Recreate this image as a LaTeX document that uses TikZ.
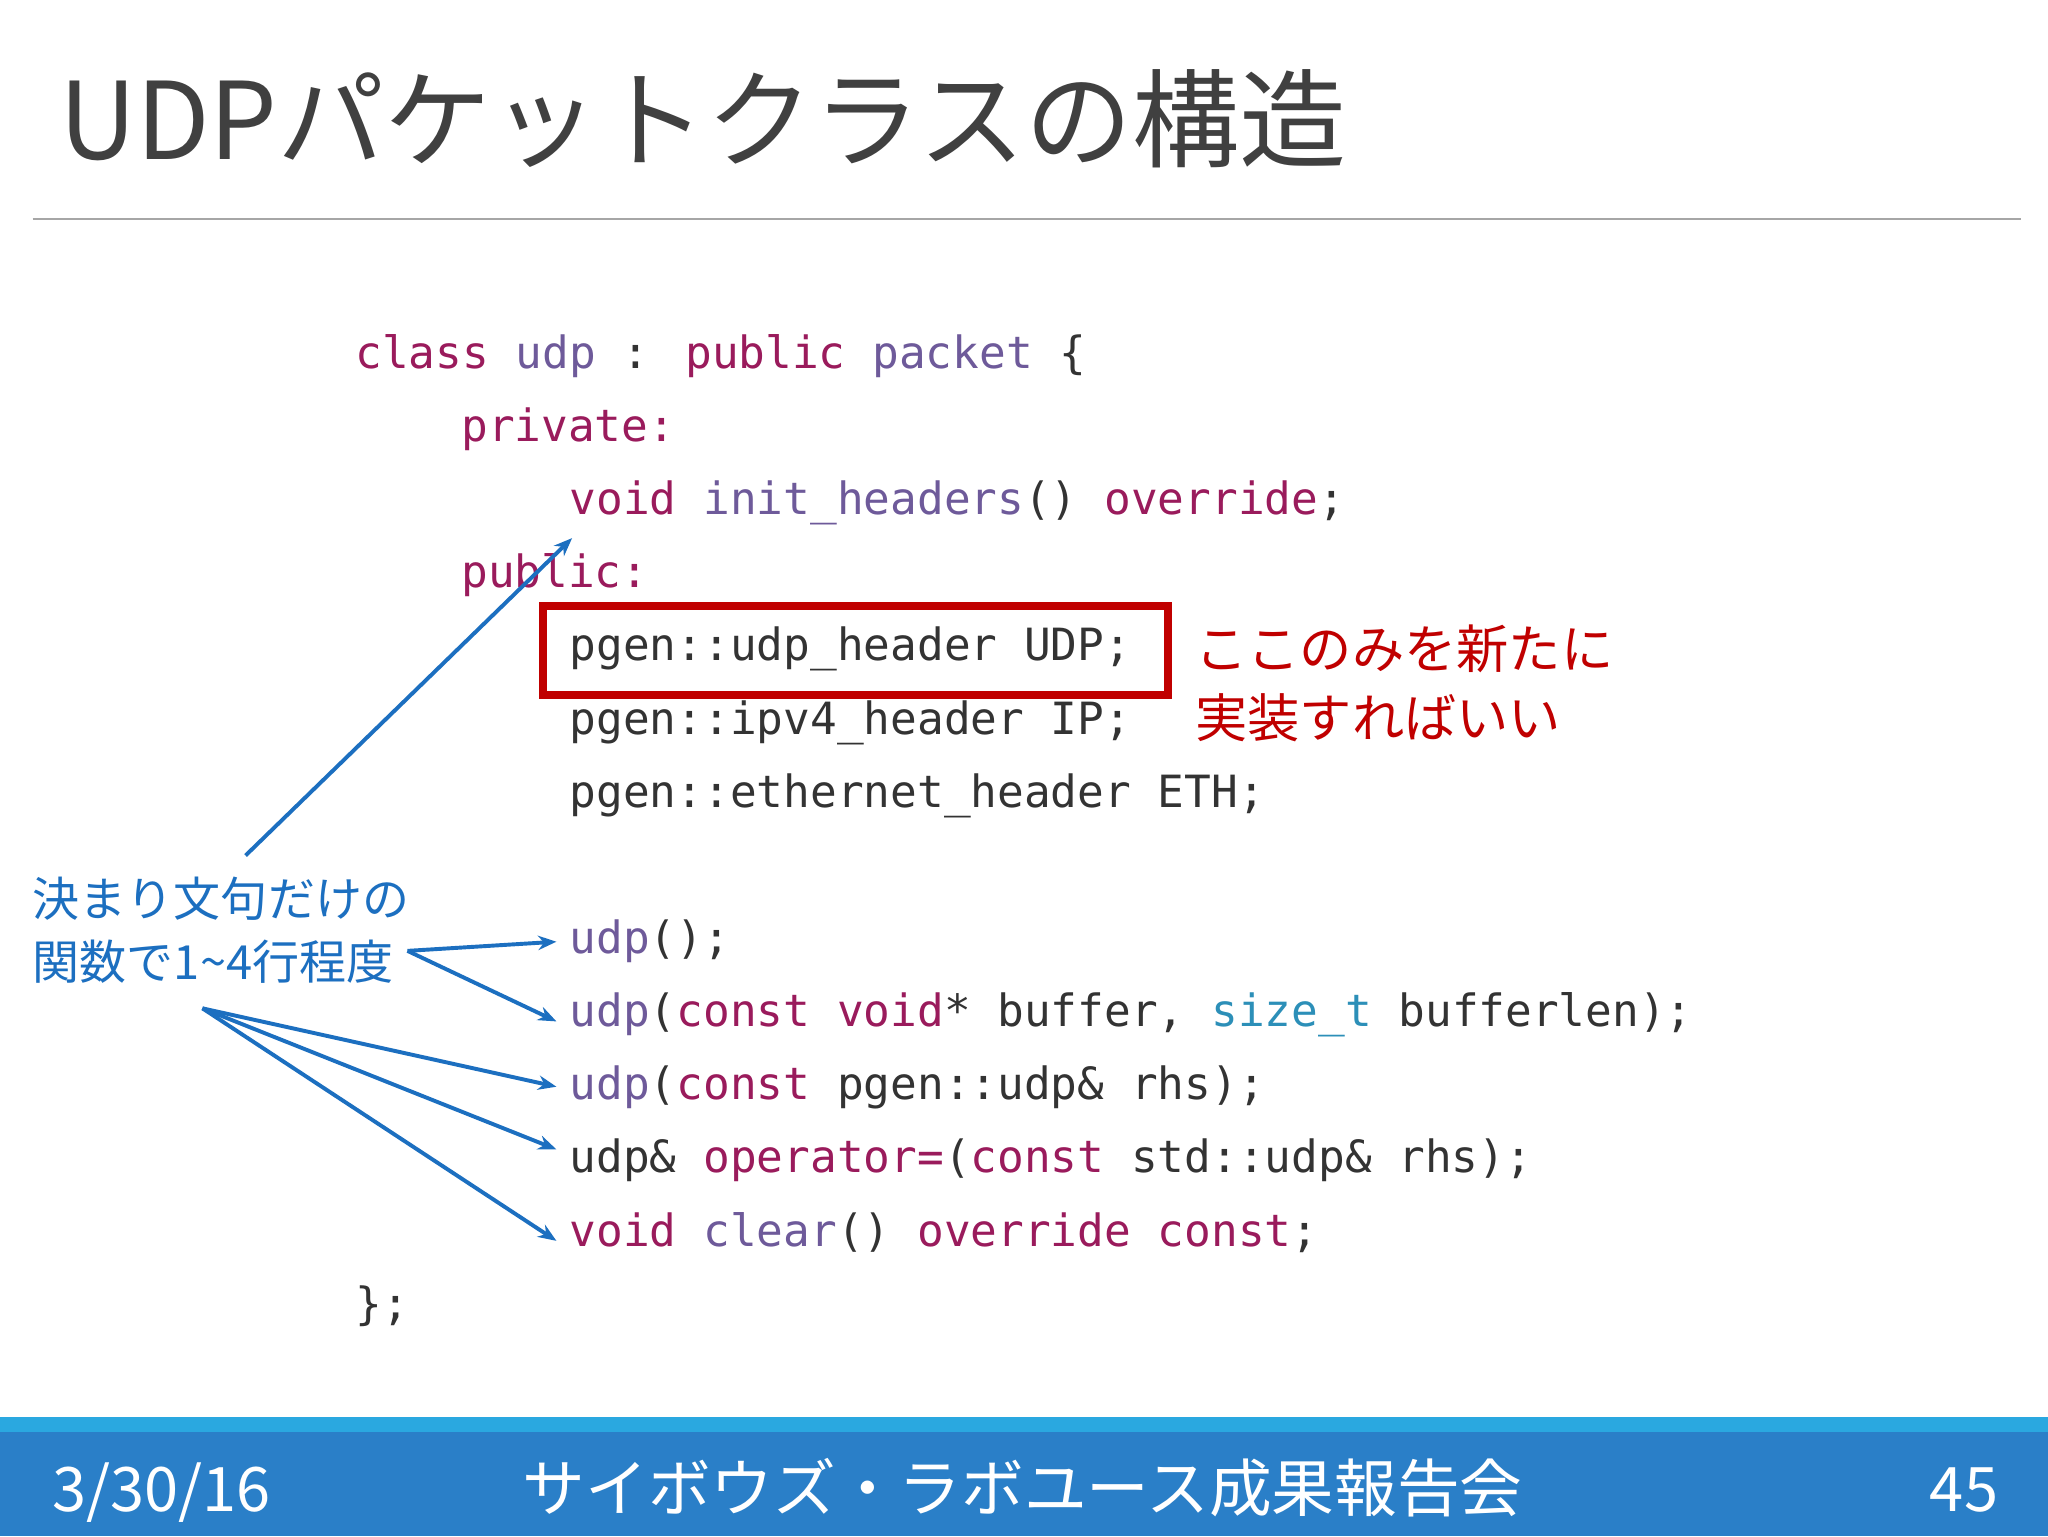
\documentclass[tikz,border=0pt]{standalone}
\usepackage{fontspec}
\newfontfamily\cjk{Noto Sans CJK JP}
\newfontfamily\codefont{DejaVu Sans Mono}
\usetikzlibrary{arrows.meta}
\definecolor{kw}{HTML}{9A1B5C}
\definecolor{id}{HTML}{6E5A9A}
\definecolor{ty}{HTML}{2C8FB8}
\definecolor{tx}{HTML}{333333}
\definecolor{red1}{HTML}{C00000}
\definecolor{blue1}{HTML}{1C6FC0}
\definecolor{barblue}{HTML}{2A7FC8}
\definecolor{stripe}{HTML}{2AA8E0}
\begin{document}
\begin{tikzpicture}[x=1pt,y=-1pt,
  code/.style={anchor=base west,inner sep=0pt,font=\codefont\fontsize{34}{34}\selectfont,text=tx},
  note/.style={anchor=base west,inner sep=0pt,align=left},
  arr/.style={draw=blue1,line width=3pt,-{Stealth[length=14pt,width=11pt]}}]
\useasboundingbox (0,0) rectangle (1568,1176);
\fill[white] (0,0) rectangle (1568,1176);
\node[note,text=black!75,font=\cjk\fontsize{82}{82}\selectfont] (title) at (45,122) {UDPパケットクラスの構造};
\draw[gray!70,line width=1.5pt] (25,168) -- (1547,168);
% code
\node[code] (l1) at (272,282) {\textcolor{kw}{class} \textcolor{id}{udp} : \textcolor{kw}{public} \textcolor{id}{packet} \{};
\node[code] (l2) at (353,338) {\textcolor{kw}{private:}};
\node[code] (l3) at (436,394) {\textcolor{kw}{void} \textcolor{id}{init\_headers}() \textcolor{kw}{override};};
\node[code] (l4) at (353,450) {\textcolor{kw}{public:}};
\node[code] (l5) at (436,506) {pgen::udp\_header UDP;};
\node[code] (l6) at (436,562) {pgen::ipv4\_header IP;};
\node[code] (l7) at (436,618) {pgen::ethernet\_header ETH;};
\node[code] (l8) at (436,730) {\textcolor{id}{udp}();};
\node[code] (l9) at (436,786) {\textcolor{id}{udp}(\textcolor{kw}{const} \textcolor{kw}{void}* buffer, \textcolor{ty}{size\_t} bufferlen);};
\node[code] (l10) at (436,842) {\textcolor{id}{udp}(\textcolor{kw}{const} pgen::udp\& rhs);};
\node[code] (l11) at (436,898) {udp\& \textcolor{kw}{operator=}(\textcolor{kw}{const} std::udp\& rhs);};
\node[code] (l12) at (436,954) {\textcolor{kw}{void} \textcolor{id}{clear}() \textcolor{kw}{override} \textcolor{kw}{const};};
\node[code] (l13) at (272,1010) {\};};
% red box
\draw[red1,line width=6pt] (416,464) rectangle (894,532);
\node[note,text=red1,font=\cjk\fontsize{40}{53}\selectfont] (rnote) at (915,565) {ここのみを新たに\\実装すればいい};
% blue note
\node[note,text=blue1,font=\cjk\fontsize{36}{48}\selectfont] (bnote) at (25,750) {決まり文句だけの\\関数で1\char"007E\relax 4行程度};
\coordinate (a0) at (188,655);
\coordinate (b0) at (312,728);
\coordinate (c0) at (155,772);
\coordinate (t1) at (438,412);
\coordinate (t2) at (426,721);
\coordinate (t3) at (426,782);
\coordinate (t4) at (426,832);
\coordinate (t5) at (426,880);
\coordinate (t6) at (426,950);
\draw[arr] (a0) -- (t1);
\draw[arr] (b0) -- (t2);
\draw[arr] (b0) -- (t3);
\draw[arr] (c0) -- (t4);
\draw[arr] (c0) -- (t5);
\draw[arr] (c0) -- (t6);
% footer
\fill[barblue] (0,1085) rectangle (1568,1176);
\fill[stripe] (0,1085) rectangle (1568,1096);
\node[note,text=white,font=\cjk\fontsize{47}{47}\selectfont] (date) at (40,1157) {3/30/16};
\node[anchor=base,inner sep=0pt,text=white,font=\cjk\fontsize{48}{48}\selectfont] (event) at (783,1157) {サイボウズ・ラボユース成果報告会};
\node[anchor=base east,inner sep=0pt,text=white,font=\cjk\fontsize{47}{47}\selectfont] (page) at (1530,1157) {45};
\end{tikzpicture}
\end{document}
